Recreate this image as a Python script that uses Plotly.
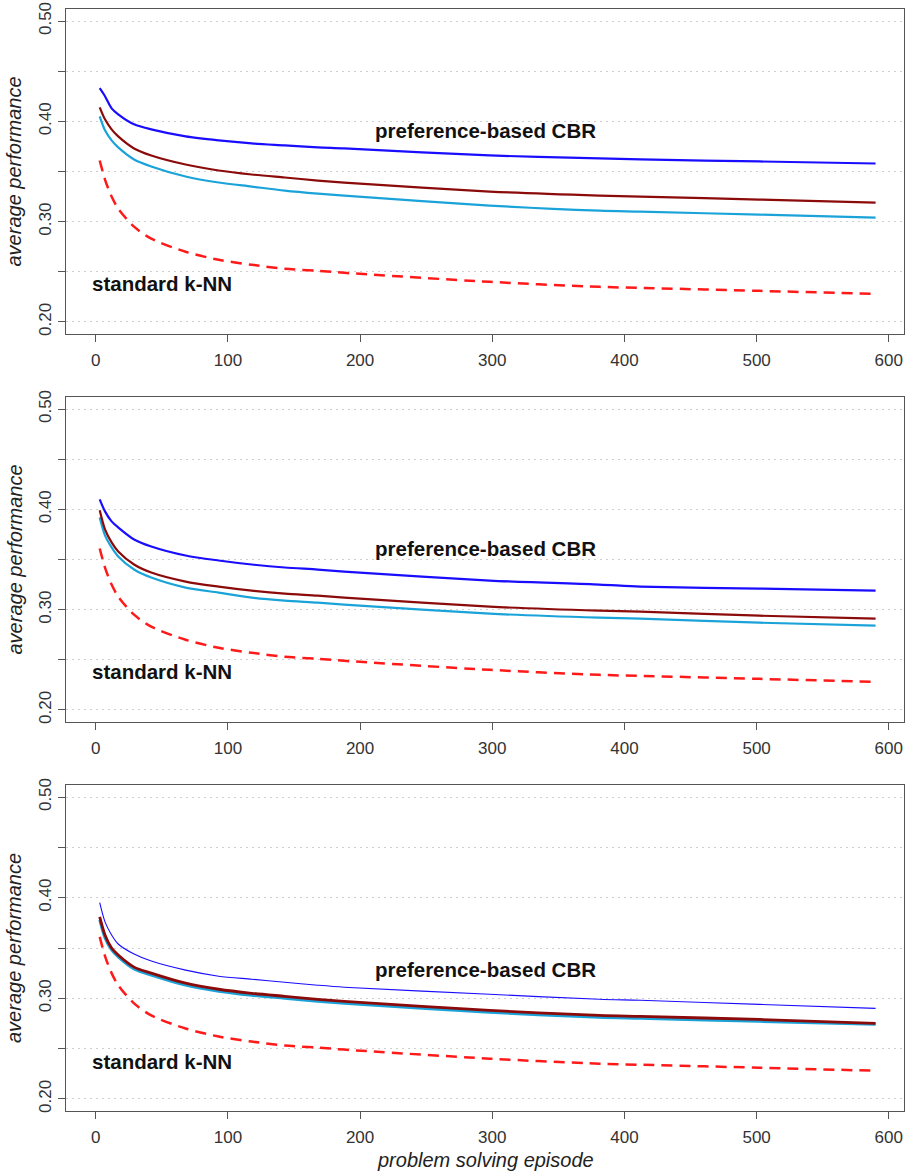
import plotly.graph_objects as go

# episode positions at which values were read
episodes = [3, 7, 12, 17, 29, 42, 68, 93, 118, 143, 168, 188, 298, 381, 412, 502, 590]

# standard k-NN (same baseline in every panel)
knn = [0.361, 0.342, 0.325, 0.313, 0.295, 0.283, 0.270, 0.262, 0.257, 0.253, 0.251, 0.249, 0.240, 0.235, 0.234, 0.231, 0.228]

# panel 1
p1_blue = [0.433, 0.425, 0.413, 0.407, 0.397, 0.392, 0.385, 0.381, 0.378, 0.376, 0.374, 0.373, 0.366, 0.363, 0.362, 0.360, 0.358]
p1_brown = [0.414, 0.402, 0.392, 0.385, 0.373, 0.366, 0.357, 0.351, 0.347, 0.344, 0.341, 0.339, 0.330, 0.326, 0.325, 0.322, 0.319]
p1_cyan = [0.405, 0.391, 0.381, 0.374, 0.362, 0.355, 0.345, 0.339, 0.335, 0.331, 0.328, 0.326, 0.316, 0.311, 0.310, 0.307, 0.304]

# panel 2
p2_blue = [0.410, 0.398, 0.388, 0.382, 0.370, 0.363, 0.354, 0.349, 0.345, 0.342, 0.340, 0.338, 0.329, 0.325, 0.323, 0.321, 0.319]
p2_brown = [0.399, 0.380, 0.367, 0.358, 0.345, 0.337, 0.328, 0.323, 0.319, 0.316, 0.314, 0.312, 0.303, 0.299, 0.298, 0.294, 0.291]
p2_cyan = [0.392, 0.374, 0.362, 0.353, 0.340, 0.332, 0.322, 0.317, 0.312, 0.309, 0.307, 0.305, 0.296, 0.292, 0.291, 0.287, 0.284]

# panel 3
p3_blue = [0.395, 0.376, 0.363, 0.354, 0.344, 0.337, 0.328, 0.322, 0.319, 0.316, 0.313, 0.311, 0.304, 0.299, 0.298, 0.294, 0.290]
p3_brown = [0.381, 0.363, 0.350, 0.343, 0.331, 0.325, 0.315, 0.309, 0.305, 0.302, 0.299, 0.297, 0.288, 0.283, 0.282, 0.279, 0.275]
p3_cyan = [0.378, 0.360, 0.348, 0.341, 0.329, 0.323, 0.313, 0.307, 0.303, 0.300, 0.297, 0.295, 0.286, 0.281, 0.280, 0.277, 0.274]

y_ticks = [0.20, 0.25, 0.30, 0.35, 0.40, 0.45, 0.50]
y_ticktext = ["0.20", "", "0.30", "", "0.40", "", "0.50"]
x_ticks = [0, 100, 200, 300, 400, 500, 600]

label_cbr = "preference-based CBR"
label_knn = "standard k-NN"
cbr_label_y = [0.391, 0.361, 0.329]
knn_label_y = [0.238, 0.238, 0.237]

BLUE = "#1a0dff"
BROWN = "#8b0a0a"
CYAN = "#1aa3d9"
RED = "#ff1a1a"
FONT = "Liberation Sans, Arial, sans-serif"

panels = [
    (p1_blue, p1_brown, p1_cyan, 2.2),
    (p2_blue, p2_brown, p2_cyan, 2.2),
    (p3_blue, p3_brown, p3_cyan, 1.1),
]

fig = go.Figure()
H_TOTAL = 1175
top_px, bot_px = 9, 1111
plot_h = bot_px - top_px
panel_px = [(9, 334), (397, 722), (785, 1111)]

for i, (blue, brown, cyan, bw) in enumerate(panels):
    ax = "" if i == 0 else str(i + 1)
    xa, ya = "x" + ax, "y" + ax
    line_common = dict(shape="spline", smoothing=0.8)
    fig.add_trace(go.Scatter(x=episodes, y=knn, mode="lines", xaxis=xa, yaxis=ya,
                             line=dict(color=RED, width=2.5, dash="11px,7px", **line_common),
                             showlegend=False, hoverinfo="skip"))
    cw = 2.2 if i < 2 else 2.8
    fig.add_trace(go.Scatter(x=episodes, y=cyan, mode="lines", xaxis=xa, yaxis=ya,
                             line=dict(color=CYAN, width=cw, **line_common),
                             showlegend=False, hoverinfo="skip"))
    fig.add_trace(go.Scatter(x=episodes, y=brown, mode="lines", xaxis=xa, yaxis=ya,
                             line=dict(color=BROWN, width=cw, **line_common),
                             showlegend=False, hoverinfo="skip"))
    fig.add_trace(go.Scatter(x=episodes, y=blue, mode="lines", xaxis=xa, yaxis=ya,
                             line=dict(color=BLUE, width=bw, **line_common),
                             showlegend=False, hoverinfo="skip"))

    t, b = panel_px[i]
    dom = [(bot_px - b) / plot_h, (bot_px - t) / plot_h]
    axis_line = dict(showline=True, linecolor="#555555", linewidth=1.2, mirror=True,
                     ticks="outside", ticklen=7, tickcolor="#555555", tickwidth=1,
                     zeroline=False, automargin=False)
    fig.layout["xaxis" + ax] = dict(
        domain=[0, 1], anchor=ya, range=[-22.5, 611.5], tickvals=x_ticks,
        tickfont=dict(size=17, color="#333333", family=FONT), showgrid=False,
        ticklabelstandoff=3, **axis_line)
    fig.layout["yaxis" + ax] = dict(
        domain=dom, anchor=xa, range=[0.188, 0.512], tickvals=y_ticks, ticktext=y_ticktext,
        tickangle=-90, tickfont=dict(size=17, color="#333333", family=FONT),
        showgrid=True, gridcolor="#cfcfcf", griddash="2px,4px", gridwidth=1,
        **axis_line)

    fig.add_annotation(x=294.5, y=cbr_label_y[i], xref=xa, yref=ya, text="<b>%s</b>" % label_cbr,
                       showarrow=False, font=dict(size=20.5, color="#111111", family=FONT))
    fig.add_annotation(x=50, y=knn_label_y[i], xref=xa, yref=ya, text="<b>%s</b>" % label_knn,
                       showarrow=False, font=dict(size=20.5, color="#111111", family=FONT))
    fig.add_annotation(x=0, y=(dom[0] + dom[1]) / 2, xref="paper", yref="paper",
                       text="<i>average performance</i>", textangle=-90, showarrow=False,
                       xanchor="center", yanchor="middle", xshift=-52,
                       font=dict(size=20, color="#222222", family=FONT))

fig.add_annotation(x=0.5, y=0, xref="paper", yref="paper", text="<i>problem solving episode</i>",
                   showarrow=False, xanchor="center", yanchor="middle", yshift=-49,
                   font=dict(size=20, color="#222222", family=FONT))

fig.update_layout(
    width=913, height=1175,
    margin=dict(l=66, r=9, t=top_px, b=H_TOTAL - bot_px, autoexpand=False),
    paper_bgcolor="white", plot_bgcolor="white",
    font=dict(family=FONT),
)

fig.write_html("out.html", config={"displayModeBar": False},
               post_script="document.body.style.margin='0';document.body.style.overflow='hidden';")
